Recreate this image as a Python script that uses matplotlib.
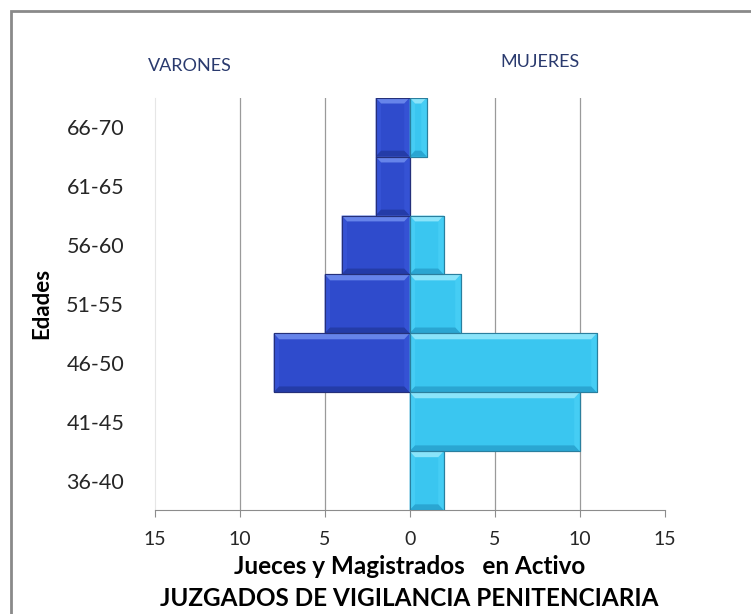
import matplotlib
matplotlib.use("Agg")
import matplotlib.pyplot as plt
from matplotlib.patches import Polygon, Rectangle
import numpy as np

categories = ["36-40", "41-45", "46-50", "51-55", "56-60", "61-65", "66-70"]
varones = [0, 0, 8, 5, 4, 2, 2]
mujeres = [2, 10, 11, 3, 2, 0, 1]
xticks = [-15, -10, -5, 0, 5, 10, 15]
xticklabels = ["15", "10", "5", "0", "5", "10", "15"]

plt.rcParams['font.family'] = ['Lato', 'DejaVu Sans']

fig = plt.figure(figsize=(7.51, 6.14), dpi=100)
ax = fig.add_axes([0.206, 0.169, 0.679, 0.672])

y = np.arange(len(categories))
dark = {"main": "#2f4bcc", "top": "#6684ea", "bot": "#243ca8", "side": "#3552d4", "edge": "#25307a"}
light = {"main": "#3ac6f0", "top": "#8ae4fa", "bot": "#2aa6d2", "side": "#45cdf4", "edge": "#2a7f9e"}

bars_v = ax.barh(y, [-v for v in varones], height=1.0, color=dark["main"], edgecolor=dark["edge"], linewidth=0.8, zorder=3)
bars_m = ax.barh(y, mujeres, height=1.0, color=light["main"], edgecolor=light["edge"], linewidth=0.8, zorder=3)

def bevel(bar, pal):
    x0 = bar.get_x(); w = bar.get_width()
    if w == 0:
        return
    xa, xb = min(x0, x0 + w), max(x0, x0 + w)
    ya = bar.get_y(); yb = ya + bar.get_height()
    dx = min(0.32, (xb - xa) / 3); dy = 0.1
    top = [(xa, yb), (xb, yb), (xb - dx, yb - dy), (xa + dx, yb - dy)]
    bot = [(xa, ya), (xb, ya), (xb - dx, ya + dy), (xa + dx, ya + dy)]
    left = [(xa, ya), (xa, yb), (xa + dx, yb - dy), (xa + dx, ya + dy)]
    right = [(xb, ya), (xb, yb), (xb - dx, yb - dy), (xb - dx, ya + dy)]
    for pts, c in ((left, pal["side"]), (right, pal["side"]), (top, pal["top"]), (bot, pal["bot"])):
        ax.add_patch(Polygon(pts, closed=True, facecolor=c, edgecolor="none", zorder=4))
    ax.add_patch(Rectangle((xa, ya), xb - xa, yb - ya, fill=False, edgecolor=pal["edge"], linewidth=0.8, zorder=5))

for b in bars_v:
    bevel(b, dark)
for b in bars_m:
    bevel(b, light)

ax.set_xlim(-15, 15)
ax.set_ylim(-0.5, 6.5)
ax.set_xticks(xticks)
ax.set_xticklabels(xticklabels, fontsize=14, color="#262626")
ax.set_yticks(y)
ax.set_yticklabels(categories, fontsize=15.5, color="#262626")
for xv in xticks:
    if xv not in (-15, 0, 15):
        ax.axvline(xv, color="#9a9a9a", linewidth=0.9, zorder=1)

for s in ("top", "right"):
    ax.spines[s].set_visible(False)
ax.spines["left"].set_color("#e6e6e6")
ax.spines["bottom"].set_color("#8c8c8c")
ax.tick_params(axis="x", direction="out", length=5, color="#8c8c8c", pad=10)
ax.tick_params(axis="y", length=0, pad=22)

ax.set_ylabel("Edades", fontsize=16, fontweight="bold", labelpad=10)
ax.set_xlabel("Jueces y Magistrados   en Activo\nJUZGADOS DE VIGILANCIA PENITENCIARIA",
              fontsize=17.5, fontweight="bold", linespacing=1.45, labelpad=5)

fig.text(190 / 751, 1 - 66 / 614, "VARONES", ha="center", va="center", fontsize=13, color="#2a3a6e")
fig.text(540 / 751, 1 - 62 / 614, "MUJERES", ha="center", va="center", fontsize=13, color="#2a3a6e")

fig.patches.append(Rectangle((11 / 751, -0.05), 1.0, 1 - 11 / 614 + 0.05, transform=fig.transFigure,
                             fill=False, edgecolor="#8a8a8a", linewidth=2, zorder=0))

fig.savefig("out.png", dpi=100)
